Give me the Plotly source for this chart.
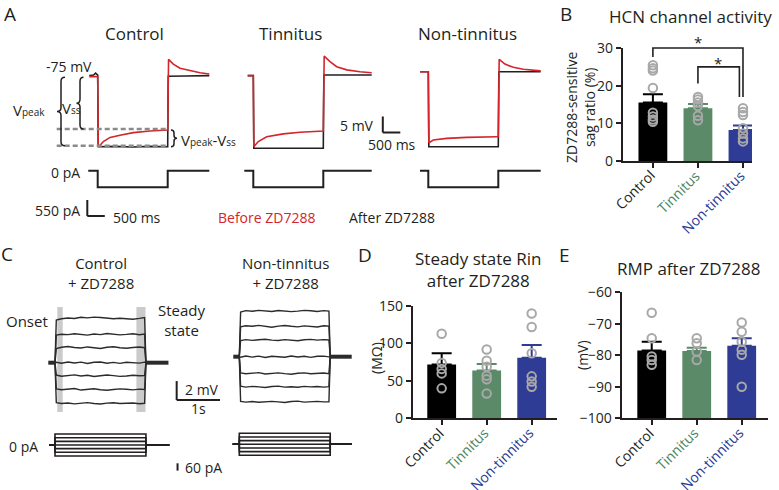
import plotly.graph_objects as go

W, H = 779, 490
FONT = "Open Sans"
INK = "#231f20"
RED = "#d3252b"
PT_GREY = "#a8a8a8"
SHADE = "#cbcbcb"
DASH_GREY = "#8a8a8a"
BAR_COLORS = ["#000000", "#5b8a69", "#2f3c95"]
TICK_COLORS = ["#231f20", "#4d8660", "#2b3a92"]

# ===================== DATA =====================
CATEGORIES = ["Control", "Tinnitus", "Non-tinnitus"]

# ---- Panel A: sag traces (time ms, potential mV) ----
A_CTRL_RED_T = [-240, 0, 15, 65, 160, 354, 637, 1017, 1494, 2000, 2025, 2160, 2351, 2637, 2923, 3189]
A_CTRL_RED_V = [-75.5, -75.5, -97.1, -97.0, -95.8, -94.5, -93.8, -93.0, -92.5, -92.2, -70.1, -71.6, -72.9, -73.7, -74.3, -74.7]
A_CTRL_BLK_T = [-240, -120, -60, -20, 0, 15, 500, 1000, 1500, 2000, 2015, 2500, 3189]
A_CTRL_BLK_V = [-75.2, -75.0, -74.4, -75.0, -75.0, -97.4, -97.3, -97.5, -97.3, -97.4, -75.4, -75.3, -75.2]
A_TINN_RED_T = [-160, 0, 15, 143, 383, 857, 1334, 2000, 2025, 2191, 2383, 2669, 3049, 3383]
A_TINN_RED_V = [-75.2, -75.2, -97.4, -95.8, -94.3, -93.4, -92.9, -92.5, -69.1, -70.8, -72.4, -73.4, -74.0, -74.3]
A_TINN_BLK_T = [-160, 0, 15, 1000, 2000, 2015, 3383]
A_TINN_BLK_V = [-75.2, -75.2, -97.9, -97.9, -97.9, -75.0, -75.0]
A_NT_RED_T = [-237, 0, 15, 143, 526, 1097, 1954, 2000, 2025, 2191, 2429, 2714, 3211]
A_NT_RED_V = [-74.0, -74.0, -96.2, -95.3, -94.8, -94.5, -94.3, -94.3, -70.1, -71.6, -72.6, -73.2, -73.7]
A_NT_BLK_T = [-237, 0, 15, 2000, 2015, 3211]
A_NT_BLK_V = [-74.0, -74.0, -97.4, -97.4, -74.0, -74.0]
# injected current (pA)
A_CTRL_I_T = [-270, 0, 0, 2000, 2000, 3189]
A_TINN_I_T = [-257, 0, 0, 2000, 2000, 3383]
A_NT_I_T = [-237, 0, 0, 2000, 2000, 3211]
A_I_STEP = [0, 0, -570, -570, 0, 0]

# ---- Panel C: voltage responses (time s, mV relative to rest) ----
C_T = [0, 0.03, 0.15, 0.3, 0.45, 0.6, 0.75, 0.9, 1.05, 1.2, 1.35, 1.5, 1.65, 1.8, 1.95, 2.07, 2.1]
C_CTRL_V = [
    [0, 4.50, 4.62, 4.70, 4.65, 4.78, 4.72, 4.80, 4.75, 4.70, 4.62, 4.68, 4.60, 4.58, 4.66, 4.75, 0],
    [0, 2.90, 3.00, 2.95, 3.05, 2.98, 2.90, 3.02, 2.96, 3.08, 3.00, 2.93, 2.98, 3.05, 2.95, 3.02, 0],
    [0, 1.50, 1.62, 1.70, 1.60, 1.55, 1.66, 1.58, 1.50, 1.62, 1.68, 1.57, 1.52, 1.60, 1.65, 1.58, 0],
    [0, 0.05, -0.06, 0.08, -0.03, 0.06, -0.08, 0.04, 0.07, -0.05, 0.03, -0.07, 0.05, 0.02, -0.04, 0.06, 0],
    [0, -1.30, -1.42, -1.35, -1.28, -1.40, -1.33, -1.45, -1.38, -1.30, -1.36, -1.44, -1.40, -1.32, -1.38, -1.35, 0],
    [0, -2.75, -2.85, -2.78, -2.72, -2.88, -2.80, -2.74, -2.84, -2.90, -2.82, -2.76, -2.80, -2.86, -2.78, -2.82, 0],
    [0, -4.20, -4.30, -4.25, -4.33, -4.28, -4.20, -4.30, -4.35, -4.26, -4.22, -4.30, -4.28, -4.24, -4.32, -4.27, 0],
]
C_NT_V = [
    [0, 4.70, 4.85, 4.78, 4.88, 4.80, 4.76, 4.86, 4.82, 4.74, 4.80, 4.88, 4.83, 4.76, 4.85, 4.80, 0],
    [0, 3.15, 3.25, 3.20, 3.30, 3.18, 3.10, 3.22, 3.28, 3.20, 3.14, 3.24, 3.20, 3.12, 3.26, 3.22, 0],
    [0, 1.70, 1.80, 1.72, 1.78, 1.84, 1.74, 1.70, 1.80, 1.76, 1.68, 1.78, 1.82, 1.74, 1.80, 1.76, 0],
    [0, -0.05, 0.07, -0.04, 0.06, -0.08, 0.05, 0.02, -0.06, 0.08, -0.03, 0.05, -0.07, 0.04, 0.06, -0.02, 0],
    [0, -1.70, -1.80, -1.72, -1.68, -1.82, -1.76, -1.70, -1.78, -1.84, -1.74, -1.70, -1.80, -1.76, -1.72, -1.78, 0],
    [0, -3.10, -3.20, -3.12, -3.18, -3.24, -3.14, -3.10, -3.20, -3.16, -3.22, -3.12, -3.18, -3.14, -3.20, -3.16, 0],
    [0, -4.70, -4.78, -4.72, -4.80, -4.74, -4.70, -4.76, -4.82, -4.72, -4.68, -4.78, -4.74, -4.70, -4.76, -4.74, 0],
]
C_CTRL_PRE_T = [-0.155, 0]
C_CTRL_POST_T = [2.1, 2.62]
C_NT_PRE_T = [-0.139, 0]
C_NT_POST_T = [2.1, 2.596]
C_I_LEVELS = [90, 60, 30, 0, -30, -60, -90]
C_CTRL_I_T = [-0.13, 0, 0, 2.1, 2.1, 2.64]
C_NT_I_T = [-0.152, 0, 0, 2.1, 2.1, 2.596]

# ---- Panel B: ZD7288-sensitive sag ratio (%) ----
B_MEAN = [15.5, 14.0, 8.2]
B_SEM = [2.2, 1.1, 1.2]
B_CONTROL_PTS = [25.4, 24.6, 24.0, 19.4, 12.8, 11.8, 11.0, 10.4]
B_TINNITUS_PTS = [17.0, 16.3, 15.5, 14.6, 12.0, 10.8]
B_NONTINNITUS_PTS = [14.0, 13.0, 12.2, 8.7, 7.3, 6.0, 5.2]
B_TICKS = [0, 10, 20, 30]

# ---- Panel D: steady state Rin (MOhm) ----
D_MEAN = [72, 64, 81]
D_SEM = [15, 8.5, 17]
D_CONTROL_PTS = [113, 74, 66, 60, 40]
D_TINNITUS_PTS = [92, 77, 69, 57, 52, 33]
D_NONTINNITUS_PTS = [140, 122, 87, 56, 49, 42]
D_TICKS = [0, 50, 100, 150]

# ---- Panel E: RMP (mV) ----
E_MEAN = [-78.5, -78.6, -77.0]
E_SEM = [2.8, 1.0, 2.4]
E_CONTROL_PTS = [-66.5, -74.6, -80.4, -81.5, -83.0]
E_TINNITUS_PTS = [-74.6, -76.2, -78.8, -81.5]
E_NONTINNITUS_PTS = [-69.6, -72.5, -75.7, -78.2, -79.8, -90.0]
E_TICKS = [-100, -90, -80, -70, -60]
E_BASE = -100

# ===================== HELPERS =====================
def X(px):
    return px / W

def Y(py):
    return 1 - py / H

layout = dict(
    width=W, height=H, margin=dict(l=0, r=0, t=0, b=0, pad=0, autoexpand=False),
    paper_bgcolor="white", plot_bgcolor="rgba(0,0,0,0)",
    showlegend=False, hovermode=False, barmode="overlay",
    font=dict(family=FONT, color=INK),
)
fig_traces = []
shapes = []
annotations = []


def ax_name(n, letter):
    return f"{letter}axis" + ("" if n == 1 else str(n))


def ref(n, letter):
    return letter + ("" if n == 1 else str(n))


def xrange_px(dlo, dhi, ref_px, ref_val, ppu):
    return [ref_val + (dlo - ref_px) / ppu, ref_val + (dhi - ref_px) / ppu]


def yrange_px(dtop, dbot, ref_px, ref_val, ppu):
    return [ref_val - (dbot - ref_px) / ppu, ref_val + (ref_px - dtop) / ppu]


def hidden(n, xdom, ydom, xr, yr):
    layout[ax_name(n, "x")] = dict(domain=[X(xdom[0]), X(xdom[1])], range=xr, visible=False,
                                   anchor=ref(n, "y"), fixedrange=True, automargin=False)
    layout[ax_name(n, "y")] = dict(domain=[Y(ydom[1]), Y(ydom[0])], range=yr, visible=False,
                                   anchor=ref(n, "x"), fixedrange=True, automargin=False)


def line(n, x, y, color=INK, width=1.5):
    fig_traces.append(go.Scatter(x=x, y=y, mode="lines", line=dict(color=color, width=width),
                                 xaxis=ref(n, "x"), yaxis=ref(n, "y")))


def txt(x, y, s, size=14, color=INK, xanchor="center", yanchor="middle", angle=0):
    annotations.append(dict(x=X(x), y=Y(y), xref="paper", yref="paper", text=s, showarrow=False,
                            font=dict(size=size, color=color, family=FONT),
                            xanchor=xanchor, yanchor=yanchor, textangle=angle))


def brace(xc, yt, yb, w, r, width=1.5):
    ym = (yt + yb) / 2
    xo = xc + w  # serif side
    xt = xc - w  # tip side
    pts = [("M", xo, yt), ("Q", xc, yt, xc, yt + r), ("L", xc, ym - r),
           ("Q", xc, ym, xt, ym), ("Q", xc, ym, xc, ym + r), ("L", xc, yb - r),
           ("Q", xc, yb, xo, yb)]
    path = ""
    for p in pts:
        cmd = p[0]
        coords = p[1:]
        s = " ".join(f"{X(coords[i]):.5f},{Y(coords[i + 1]):.5f}" for i in range(0, len(coords), 2))
        path += f"{cmd} {s} "
    shapes.append(dict(type="path", path=path, xref="paper", yref="paper",
                       line=dict(color=INK, width=width)))


# ===================== PANEL A =====================
MS_PX = 0.035      # px per ms
MV_PX = 3.2        # px per mV
PA_PX = 16 / 550   # px per pA
A_V_DOM = (40, 160)
A_I_DOM = (160, 222)
a_panels = [
    (1, 4, 97.7, A_CTRL_BLK_T, A_CTRL_BLK_V, A_CTRL_RED_T, A_CTRL_RED_V, A_CTRL_I_T),
    (2, 5, 253.3, A_TINN_BLK_T, A_TINN_BLK_V, A_TINN_RED_T, A_TINN_RED_V, A_TINN_I_T),
    (3, 6, 428.3, A_NT_BLK_T, A_NT_BLK_V, A_NT_RED_T, A_NT_RED_V, A_NT_I_T),
]
for nv, ni, x0, bt, bv, rt, rv, it in a_panels:
    xdom = (x0 - 500 * MS_PX, x0 + 4500 * MS_PX)
    xr = xrange_px(xdom[0], xdom[1], x0, 0, MS_PX)
    hidden(nv, xdom, A_V_DOM, xr, yrange_px(A_V_DOM[0], A_V_DOM[1], 75, -75, MV_PX))
    hidden(ni, xdom, A_I_DOM, xr, yrange_px(A_I_DOM[0], A_I_DOM[1], 170.7, 0, PA_PX))
    line(nv, bt, bv, INK, 1.6)
    line(nv, rt, rv, RED, 1.6)
    line(ni, it, A_I_STEP, INK, 2)

# scale bars A
shapes.append(dict(type="line", xref="x2", yref="y2", x0=3700, x1=3700, y0=-88, y1=-93,
                   line=dict(color=INK, width=2)))
shapes.append(dict(type="line", xref="x2", yref="y2", x0=3700, x1=4200, y0=-93, y1=-93,
                   line=dict(color=INK, width=2)))
shapes.append(dict(type="line", xref="x4", yref="y4", x0=-297, x1=-297, y0=-1007, y1=-1557,
                   line=dict(color=INK, width=2)))
shapes.append(dict(type="line", xref="x4", yref="y4", x0=-297, x1=203, y0=-1557, y1=-1557,
                   line=dict(color=INK, width=2)))

# dashed guide lines and braces
for yy in (129, 145.7):
    shapes.append(dict(type="line", xref="paper", yref="paper", x0=X(56.7), x1=X(166.7),
                       y0=Y(yy), y1=Y(yy), line=dict(color=DASH_GREY, width=2.5, dash="5px,3px")))
brace(61, 77.3, 145.7, 4, 4)
brace(80, 77.3, 129, 3.5, 4)
brace(174, 130, 146.7, -3, 3)

SUB = "<span style='font-size:10px'>{}</span>"
txt(10, 14, "A", 19)
txt(134, 34, "Control", 17)
txt(290, 33, "Tinnitus", 17)
txt(467, 33, "Non-tinnitus", 17)
txt(69, 66, "-75 mV", 14)
txt(29, 110, "V" + SUB.format("peak"), 15)
txt(71, 108, "V" + SUB.format("ss"), 15)
txt(179, 140, "V" + SUB.format("peak") + "-V" + SUB.format("ss"), 15, xanchor="left")
txt(82, 172, "0 pA", 14, xanchor="right")
txt(82, 210, "550 pA", 14, xanchor="right")
txt(111, 217, "500 ms", 14, xanchor="left")
txt(376, 126, "5 mV", 14, xanchor="right")
txt(392, 144, "500 ms", 14)
txt(266, 217, "Before ZD7288", 14, color=RED)
txt(346.5, 217, "After ZD7288", 14, xanchor="left")

# ===================== PANEL C =====================
S_PX = 43.3       # px per s
CMV_PX = 9.5      # px per mV
CPA_PX = 0.122    # px per pA
C_V_DOM = (300, 420)
C_I_DOM = (425, 480)
c_panels = [
    (7, 9, 55.0, (40, 230), 362.7, 445.0, C_CTRL_V, C_CTRL_PRE_T, C_CTRL_POST_T, C_CTRL_I_T),
    (8, 10, 239.3, (225, 365), 356.7, 444.3, C_NT_V, C_NT_PRE_T, C_NT_POST_T, C_NT_I_T),
]
for nv, ni, x0, xdom, v0px, i0px, traces, pre, post, it in c_panels:
    xr = xrange_px(xdom[0], xdom[1], x0, 0, S_PX)
    hidden(nv, xdom, C_V_DOM, xr, yrange_px(C_V_DOM[0], C_V_DOM[1], v0px, 0, CMV_PX))
    hidden(ni, xdom, C_I_DOM, xr, yrange_px(C_I_DOM[0], C_I_DOM[1], i0px, 0, CPA_PX))
    line(nv, pre, [0, 0], "#2b2b2b", 4)
    line(nv, post, [0, 0], "#2b2b2b", 4)
    for tr in traces:
        line(nv, C_T, tr, "#2b2b2b", 1.4)
    for lvl in C_I_LEVELS:
        line(ni, it, [0, 0, lvl, lvl, 0, 0], INK, 1.6)

# onset / steady-state shading
for t0, t1 in ((0.053, 0.178), (1.88, 2.09)):
    shapes.append(dict(type="rect", xref="x7", yref="y7", x0=t0, x1=t1, y0=-5.19, y1=5.86,
                       fillcolor=SHADE, line=dict(width=0), layer="below"))
# scale bars C
shapes.append(dict(type="line", xref="x7", yref="y7", x0=2.81, x1=2.81, y0=-1.93, y1=-3.93,
                   line=dict(color=INK, width=2)))
shapes.append(dict(type="line", xref="x7", yref="y7", x0=2.81, x1=3.81, y0=-3.93, y1=-3.93,
                   line=dict(color=INK, width=2)))
shapes.append(dict(type="line", xref="x9", yref="y9", x0=2.83, x1=2.83, y0=-150, y1=-210,
                   line=dict(color=INK, width=2)))

txt(7, 254, "C", 19)
txt(101, 273, "Control<br>+ ZD7288", 15)
txt(285, 273, "Non-tinnitus<br>+ ZD7288", 15)
txt(27, 321, "Onset", 15)
txt(182, 320, "Steady<br>state", 15)
txt(183, 389, "2 mV", 14, xanchor="left")
txt(198, 408, "1s", 14)
txt(40, 446, "0 pA", 14, xanchor="right")
txt(183, 467, "60 pA", 14, xanchor="left")

# ===================== BAR PANELS =====================
def bar_panel(n, xdom, ydom, xr, yr, yticks, means, sems, pts_lists, base=None):
    layout[ax_name(n, "x")] = dict(
        domain=[X(xdom[0]), X(xdom[1])], range=xr, anchor=ref(n, "y"), automargin=False,
        showline=True, linecolor=INK, linewidth=2, ticks="outside", ticklen=5, tickwidth=2,
        tickcolor=INK, tickvals=[0, 1, 2], showticklabels=False,
        showgrid=False, zeroline=False, fixedrange=True)
    layout[ax_name(n, "y")] = dict(
        domain=[Y(ydom[1]), Y(ydom[0])], range=yr, anchor=ref(n, "x"), automargin=False,
        showline=True, linecolor=INK, linewidth=2, ticks="outside", ticklen=5, tickwidth=2,
        tickcolor=INK, tickvals=yticks, tickfont=dict(size=14, family=FONT, color=INK),
        showgrid=False, zeroline=False, fixedrange=True)
    # rotated category labels hanging from the category ticks
    for i, (cat, col) in enumerate(zip(CATEGORIES, TICK_COLORS)):
        annotations.append(dict(x=i, y=Y(ydom[1]), xref=ref(n, "x"), yref="paper", text=cat,
                                showarrow=False, textangle=-45, xanchor="right", yanchor="top",
                                xshift=9, yshift=-2, font=dict(size=14, color=col, family=FONT)))
    for i in range(3):
        yv = means[i] if base is None else means[i] - base
        fig_traces.append(go.Bar(
            x=[i], y=[yv], base=None if base is None else [base], width=0.64,
            marker=dict(color=BAR_COLORS[i], line=dict(width=0)),
            error_y=dict(type="data", symmetric=False, array=[sems[i]], arrayminus=[0],
                         color=BAR_COLORS[i], thickness=2, width=10),
            xaxis=ref(n, "x"), yaxis=ref(n, "y")))
    for i, pts in enumerate(pts_lists):
        fig_traces.append(go.Scatter(
            x=[i] * len(pts), y=pts, mode="markers",
            marker=dict(symbol="circle-open", size=8.5, color=PT_GREY, line=dict(width=2, color=PT_GREY)),
            xaxis=ref(n, "x"), yaxis=ref(n, "y")))


# B
B_XDOM, B_YDOM, B_XR = (622.7, 752), (48, 161), [-0.67, 2.2]
bar_panel(11, B_XDOM, B_YDOM, B_XR, [0, 30], B_TICKS, B_MEAN, B_SEM,
          [B_CONTROL_PTS, B_TINNITUS_PTS, B_NONTINNITUS_PTS])
# overlay axis for significance brackets (same scale, taller domain)
OV_TOP = 20
hidden(12, B_XDOM, (OV_TOP, B_YDOM[1]), B_XR, [0, 30 * (B_YDOM[1] - OV_TOP) / (B_YDOM[1] - B_YDOM[0])])
line(12, [0, 0, 2, 2], [27.6, 30, 30, 17.0], INK, 1.6)
line(12, [1, 1, 1.92, 1.92], [20.6, 25, 25, 17.0], INK, 1.6)
for xs, ys in ((1, 31.6), (1.45, 26.0)):
    annotations.append(dict(x=xs, y=ys, xref="x12", yref="y12", text="*", showarrow=False,
                            font=dict(size=15, color=INK, family=FONT)))
txt(566, 14, "B", 19)
txt(690, 17, "HCN channel activity", 17)
txt(581, 107, "ZD7288-sensitive<br>sag ratio (%)", 14, angle=-90)

# D
bar_panel(13, (412.7, 556.7), (306, 418.3), [-0.644, 2.556], [0, 150], D_TICKS, D_MEAN, D_SEM,
          [D_CONTROL_PTS, D_TINNITUS_PTS, D_NONTINNITUS_PTS])
txt(365, 255, "D", 19)
txt(479, 269, "Steady state Rin<br>after ZD7288", 17)
txt(376, 358, "(MΩ)", 14, angle=-90)

# E
bar_panel(14, (621.7, 768), (292.3, 418.3), [-0.667, 2.584], [-100, -60], E_TICKS, E_MEAN, E_SEM,
          [E_CONTROL_PTS, E_TINNITUS_PTS, E_NONTINNITUS_PTS], base=E_BASE)
txt(564, 255, "E", 19)
txt(689, 268, "RMP after ZD7288", 17)
txt(582, 355, "(mV)", 14, angle=-90)

layout["shapes"] = shapes
layout["annotations"] = annotations
fig = go.Figure(data=fig_traces, layout=layout)
fig.write_html("out.html", config={"displayModeBar": False, "staticPlot": True},
               post_script="document.body.style.margin='0px';document.body.style.overflow='hidden';")
